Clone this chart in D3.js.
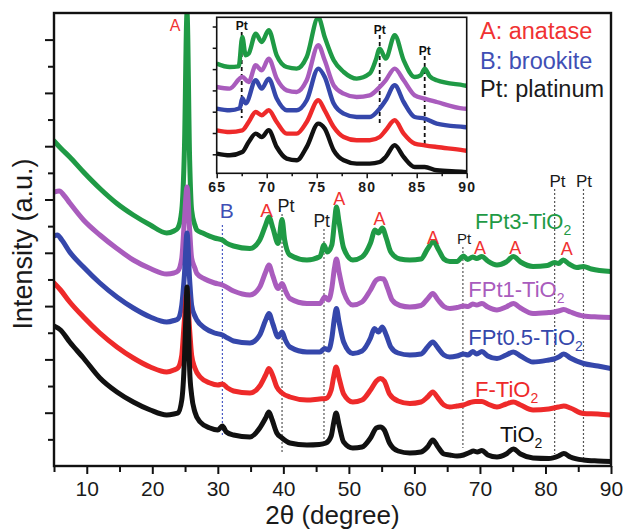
<!DOCTYPE html>
<html><head><meta charset="utf-8">
<script src="https://cdn.jsdelivr.net/npm/d3@7/dist/d3.min.js"></script>
<style>
body{margin:0;background:#fff}
svg{display:block;font-family:"Liberation Sans",Arial,Helvetica,sans-serif}
</style>
</head><body>
<svg id="chart" width="626" height="529"></svg>
<script>
// ---------------- DATA (2θ in degrees, intensity in a.u. with vertical offsets) ----------------
const tio2 = [[5,140],[6,136],[7.4,124],[9.5,108],[12,88],[14.6,74],[17.1,64],[19.7,56],[22.2,51],[23.3,52],[23.9,53],[24.5,66],[24.9,106],[25.15,156],[25.3,179],[25.45,156],[25.7,96],[26,71],[26.5,54],[27.3,44],[28.8,38],[30,36],[30.7,40],[31.3,34],[32.4,31],[34.9,29],[36.4,38],[37.3,48],[37.8,54],[38.3,46],[39,33],[39.8,28],[41,23],[43.6,21],[45.5,21.5],[46.5,23],[47.3,30],[47.7,44],[48.05,53],[48.5,41],[49.2,24],[50.6,18],[52,19],[53.3,28],[54.2,38],[54.8,39],[55.4,36],[56.2,23],[57.5,15],[59.3,13],[61,14],[62,19],[62.8,26],[63.6,19],[64.5,12],[65.4,11],[66.5,10],[67.5,11],[68.4,13.5],[69,15],[69.6,14],[70.3,15.5],[71.2,11],[72.6,9],[74,12],[75.1,17],[76.2,12],[78.1,8],[80.5,7.5],[82,10],[82.8,12.5],[83.8,9],[85.8,6],[88,5],[90,4.5]];
const fTio2 = [[5,183],[6,176],[7.4,164],[9.5,149],[12,133],[14.6,119],[17.1,108],[19.7,99],[22.2,94],[23.3,96],[23.9,98],[24.5,111],[24.9,146],[25.3,175],[25.7,136],[26,111],[26.5,98],[27.3,89],[28.8,83],[30,81],[30.7,82],[31.5,78],[32.4,75],[34.9,73],[36.4,80],[37.3,91],[37.8,97.5],[38.4,90],[39,79],[39.8,73],[41,69],[43.6,66],[45.5,67],[46.5,67.5],[47.3,76],[47.7,90],[48.05,99],[48.5,88],[49.2,72],[50.6,64],[52,66],[53.3,76],[54.2,85],[54.8,87.5],[55.4,85],[56.2,72],[57.5,65],[59.3,62.5],[61,64],[62,69],[62.8,74],[63.6,68],[64.5,61],[65.4,59],[66.5,60],[67.5,61],[68.5,63.5],[69.3,64.5],[70.3,64.5],[71.2,62],[72.6,59],[74,62],[75.1,64],[76.2,61],[78.1,56],[80.5,57],[82,59],[82.8,60],[83.8,58],[85.8,52.5],[88,52],[90,51]];
const fpt05 = [[5,230],[5.5,231],[6.2,226],[7.4,214],[9.5,199],[12,183],[14.6,169],[17.1,158],[19.7,149],[22.2,144],[23.3,145.5],[23.9,147],[24.5,161],[24.9,191],[25.3,233],[25.7,186],[26,161],[26.5,150],[26.8,146],[28,138],[29.5,133],[30.7,131],[31.5,128],[32.4,125],[34.9,123],[36.4,131],[37.3,146],[37.8,152.5],[38.4,142],[39.2,129],[39.8,134],[40.3,126],[41,119],[43.6,114],[45.6,114],[46.3,117.5],[46.9,116],[47.4,128],[47.8,148],[48.1,157.5],[48.5,144],[49.2,124],[50.6,112.5],[52,115],[53.3,128],[53.9,137.5],[54.5,134],[55.1,139],[55.7,131],[56.4,119],[57.5,113],[59.3,111],[61,112],[62,119],[62.8,124],[63.6,118],[64.5,111],[65.4,109],[66.5,110],[67.5,112],[68.2,111],[68.9,114.5],[69.5,112],[70.3,114.5],[71.2,110],[72.6,107.5],[74,111],[75.1,114],[76.2,110],[78.1,104],[80.5,106],[81.3,107],[82,109],[82.8,112],[83.8,108],[85.8,102.5],[88,100],[90,97.5]];
const fpt1 = [[5,274],[5.8,275],[6.6,270],[7.4,263],[9.5,246],[12,231],[14.6,217.5],[17.1,206],[19.7,197.5],[22.2,192],[23.3,193],[23.9,195],[24.5,208],[24.9,246],[25.3,279],[25.7,236],[26,208],[26.5,198],[26.8,192.5],[28,187],[29.5,183],[30.7,181],[32.4,175],[34.9,171],[36.4,179],[37.3,194],[37.8,201],[38.4,190],[39.2,177.5],[39.8,182.5],[40.4,174],[41,167.5],[43.6,162.5],[45.6,162.5],[46.3,169],[46.9,166],[47.4,178],[47.8,198],[48.1,207],[48.5,194],[49.2,174],[50.6,161],[52,164],[53.3,176],[54.2,186],[54.8,187.5],[55.3,187],[55.9,178],[56.6,166],[57.8,160.5],[59.3,159],[61,160.5],[62,167],[62.8,172.5],[63.6,166],[64.5,159.5],[65.4,157.5],[66.5,158.5],[67.5,160],[68.2,159.5],[68.9,162],[69.5,161],[70.3,162.5],[71.2,159],[72.6,156],[74,159],[75.1,162.5],[76.2,158],[78.1,152.5],[80.5,153.5],[81.3,154],[82,155],[82.8,156.5],[83.8,154],[85.8,150],[88,149],[90,148.5]];
const fpt3 = [[5,325],[6,318],[7.4,309],[9.5,294],[12,277.5],[14.6,262.5],[17.1,251],[19.7,241],[22.2,233],[23.3,235],[23.9,238],[24.5,256],[24.9,316],[25.3,453],[25.7,306],[26,256],[26.5,241],[26.8,236],[27.7,233],[29.5,228],[30.7,226],[31.3,223],[32.4,220],[34.9,217.5],[36.4,226],[37.3,241],[37.8,249],[38.4,238],[39.2,222.5],[39.8,246.5],[40.2,226],[41,211],[43.6,206],[45.6,209.5],[46.2,221],[46.7,214],[47.4,221],[47.8,244],[48.1,259],[48.5,244],[49.2,218],[50.6,206],[52,209],[53.3,223],[54,236],[54.5,233],[55.1,238],[55.7,228],[56.4,214],[57.8,207],[59.3,206],[61,207],[62,217],[62.9,224.5],[63.7,216],[64.5,207],[65.4,204.5],[66.5,204.5],[67.5,210],[68.1,206.5],[68.9,209],[69.5,207.5],[70.3,209.5],[71.2,205],[72.6,201],[74,204],[75.1,209.5],[76.2,204],[78.1,199.5],[80.3,200.5],[81.4,203.5],[82,202.5],[82.7,206],[83.6,202],[84.8,198.5],[85.8,199.5],[87,197],[90,194.5]];

// inset (65–90°)
const insetTio2 = [[65,19.7],[66.3,18],[67.56,21.3],[68.2,31.3],[68.9,39.7],[69.5,36.3],[70.2,43],[71,26.3],[72,14.7],[73,13],[74,26.3],[75.16,49.7],[75.8,44.7],[76.7,23],[77.7,13],[79,9.7],[80.3,9.7],[81.3,11.3],[81.9,16.3],[82.8,28],[83.7,16.3],[84.8,6.3],[85.8,6.3],[87,3],[89.7,1.3],[90,1]];
const insetF = [[65,43],[66.3,41.3],[67.56,43],[68.2,51.3],[68.9,61.3],[69.5,58],[70.2,63],[71,51.3],[72,39.7],[73,39.7],[74,51.3],[75.16,73],[75.8,63],[76.7,46.3],[77.7,36.3],[79,33],[80.3,33],[81.3,36.3],[81.9,43],[82.8,53],[83.7,39.7],[84.8,29.7],[85.8,28],[87,26.3],[89.7,23],[90,22.5]];
const insetPt05 = [[65,64.7],[66.3,63],[67.3,65],[67.56,75],[67.9,70],[68.9,93],[69.5,84.7],[70.2,94.7],[71,74.7],[72,63],[73,63],[74,73],[75.16,104.7],[75.8,96.3],[76.7,69.7],[77.7,59.7],[79,56.3],[80.3,56.3],[81.3,64.7],[81.9,73],[82.8,88],[83.7,71.3],[84.8,56.3],[85.8,54.7],[87,49.7],[89.7,46.3],[90,46]];
const insetPt1 = [[65,86.3],[66.3,84.7],[67.56,96.3],[68.2,91.3],[68.9,108],[69.5,103],[70.2,114.7],[71,94.7],[72,83],[73,81.3],[74,93],[75.16,128],[75.8,113],[76.7,88],[77.7,79.7],[79,76.3],[80.3,78],[81.3,86.3],[81.9,93],[82.8,104.7],[83.7,93],[84.8,78],[85.8,74.7],[87,71.3],[89.7,64.7],[90,64.5]];
const insetPt3 = [[65,109.7],[66.3,106.3],[67.2,107],[67.56,136.3],[67.9,118],[68.2,119.7],[68.9,139.7],[69.5,131.3],[70.2,143],[71,118],[72,106.3],[73,104.7],[74,116.3],[75.16,156],[75.8,136.3],[76.7,113],[77.7,101.3],[79,94.7],[80.3,99.7],[80.9,113],[81.3,124.7],[81.9,114.7],[82.8,138],[83.7,113],[84.8,96.3],[85.4,98],[85.8,104.7],[86.3,97],[87,93],[89.7,88],[90,87.5]];

const seriesNames = ["FPt3-TiO", "FPt1-TiO", "FPt0.5-TiO", "F-TiO", "TiO"];
const seriesColors = ["#1f9a45", "#a95cbd", "#3547ab", "#ee2a2a", "#111111"];
const xTickLabels = [10, 20, 30, 40, 50, 60, 70, 80, 90];
const xMinorTicks = [5, 15, 25, 35, 45, 55, 65, 75, 85];
const insetTickLabels = [65, 70, 75, 80, 85, 90];
const insetMinorTicks = [67.5, 72.5, 77.5, 82.5, 87.5];
const brookiteLine = 30.7;
const ptLinesMain = [39.8, 46.2, 67.4, 81.4, 85.8];
const ptLinesInset = [67.5, 81.3, 85.8];
const legendItems = ["A: anatase", "B: brookite", "Pt: platinum"];

// ---------------- LAYOUT ----------------
const svg = d3.select("#chart");
const M = {l: 54, r: 611, t: 13, b: 466};
const x = d3.scaleLinear([5, 90], [M.l, M.r]);
const y = d3.scaleLinear([0, 453], [M.b, M.t]);
const yMajor = d3.range(1, 9).map(i => i * 53.3);
const yMinor = d3.range(0, 8).map(i => i * 53.3 + 26.65);

svg.append("defs").append("clipPath").attr("id", "mainClip")
  .append("rect").attr("x", M.l).attr("y", M.t).attr("width", M.r - M.l).attr("height", M.b - M.t);

// dashed reference lines (main)
const ptExtents = [[214, 453], [229, 441], [247, 448], [189, 454], [189, 458]];
svg.append("line").attr("x1", x(brookiteLine)).attr("x2", x(brookiteLine))
  .attr("y1", 225).attr("y2", 437).attr("stroke", "#4a5bc4").attr("stroke-width", 1.2).attr("stroke-dasharray", "2,2");
ptLinesMain.forEach((p, i) => {
  svg.append("line").attr("x1", x(p)).attr("x2", x(p))
    .attr("y1", ptExtents[i][0]).attr("y2", ptExtents[i][1])
    .attr("stroke", "#555").attr("stroke-width", 1.2).attr("stroke-dasharray", "2,2");
});

// curves
const line = d3.line().x(d => x(d[0])).y(d => y(d[1])).curve(d3.curveMonotoneX);
const mainData = [fpt3, fpt1, fpt05, fTio2, tio2];
const gCurves = svg.append("g").attr("clip-path", "url(#mainClip)");
mainData.forEach((d, i) => {
  gCurves.append("path").attr("d", line(d)).attr("fill", "none")
    .attr("stroke", seriesColors[i]).attr("stroke-width", 5)
    .attr("stroke-linejoin", "round").attr("stroke-linecap", "round");
});

// axes
const axB = svg.append("g").attr("transform", `translate(0,${M.b})`)
  .call(d3.axisBottom(x).tickValues(xTickLabels).tickSize(8).tickPadding(7).tickFormat(d3.format("d")));
svg.append("g").attr("transform", `translate(0,${M.b})`)
  .call(d3.axisBottom(x).tickValues(xMinorTicks).tickSize(6).tickFormat(""));
svg.append("g").attr("transform", `translate(${M.l},0)`)
  .call(d3.axisLeft(y).tickValues(yMajor).tickSize(9).tickFormat(""));
svg.append("g").attr("transform", `translate(${M.l},0)`)
  .call(d3.axisLeft(y).tickValues(yMinor).tickSize(6).tickFormat(""));
svg.selectAll(".domain").remove();
svg.selectAll(".tick line").attr("stroke", "#111").attr("stroke-width", 2);
axB.selectAll("text").attr("font-size", 21).attr("fill", "#1a1a1a").attr("font-family", "Liberation Sans, Arial, sans-serif");

// frame
svg.append("rect").attr("x", M.l).attr("y", M.t).attr("width", M.r - M.l).attr("height", M.b - M.t)
  .attr("fill", "none").attr("stroke", "#111").attr("stroke-width", 2.4);

// axis titles
svg.append("text").attr("x", (M.l + M.r) / 2).attr("y", 524).attr("text-anchor", "middle")
  .attr("font-size", 26).attr("fill", "#1a1a1a").text("2θ (degree)");
svg.append("text").attr("transform", "translate(32,244) rotate(-90)").attr("text-anchor", "middle")
  .attr("font-size", 27).attr("fill", "#1a1a1a").text("Intensity (a.u.)");

// peak labels
const RED = "#f03232", BLUE = "#3f4fb5", BLK = "#1a1a1a";
const peakLabels = [
  ["A", 23.46, 31, 16, RED], ["B", 31.35, 218, 21, BLUE], ["A", 37.46, 217, 19, RED],
  ["Pt", 40.4, 212, 18, BLK], ["Pt", 45.85, 227, 17.5, BLK], ["A", 48.54, 205, 18, RED],
  ["A", 54.67, 225, 18, RED], ["A", 62.84, 244, 18, RED], ["Pt", 67.57, 244, 15, BLK],
  ["A", 70.0, 254, 18, RED], ["A", 75.4, 254, 18, RED], ["A", 83.24, 255, 18, RED],
  ["Pt", 81.83, 187, 17, BLK], ["Pt", 85.88, 187, 17, BLK]
];
peakLabels.forEach(p => {
  svg.append("text").attr("x", x(p[1])).attr("y", p[2]).attr("text-anchor", "middle")
    .attr("font-size", p[3]).attr("fill", p[4]).text(p[0]);
});

// sample labels
const sampleLabelPos = [[69.25, 229], [68.22, 297], [68.22, 345], [69.25, 397], [73.06, 442]];
seriesNames.forEach((n, i) => {
  const t = svg.append("text").attr("x", x(sampleLabelPos[i][0])).attr("y", sampleLabelPos[i][1])
    .attr("font-size", 22).attr("fill", seriesColors[i]);
  t.append("tspan").text(n);
  t.append("tspan").attr("font-size", 14).attr("dy", 6).text("2");
});

// legend
const legendColors = [RED, BLUE, BLK];
const legendY = [39, 69, 97];
legendItems.forEach((s, i) => {
  svg.append("text").attr("x", 480).attr("y", legendY[i]).attr("font-size", 23.5)
    .attr("fill", legendColors[i]).text(s);
});

// ---------------- INSET ----------------
const I = {l: 216.7, r: 466.7, t: 17.3, b: 173.3};
const xi = d3.scaleLinear([65, 90], [I.l, I.r]);
const yi = d3.scaleLinear([0, 156], [I.b, I.t]);
svg.append("rect").attr("x", I.l).attr("y", I.t).attr("width", I.r - I.l).attr("height", I.b - I.t).attr("fill", "#fff");
svg.select("defs").append("clipPath").attr("id", "insetClip")
  .append("rect").attr("x", I.l).attr("y", I.t).attr("width", I.r - I.l).attr("height", I.b - I.t);

const ptInsetExt = [[32, 118], [35, 123], [56, 145]];
const ptInsetLabelY = [30, 34, 55];
ptLinesInset.forEach((p, i) => {
  svg.append("line").attr("x1", xi(p)).attr("x2", xi(p)).attr("y1", ptInsetExt[i][0]).attr("y2", ptInsetExt[i][1])
    .attr("stroke", "#111").attr("stroke-width", 1.8).attr("stroke-dasharray", "4,3");
});
const lineI = d3.line().x(d => xi(d[0])).y(d => yi(d[1])).curve(d3.curveMonotoneX);
const insetData = [insetPt3, insetPt1, insetPt05, insetF, insetTio2];
const gI = svg.append("g").attr("clip-path", "url(#insetClip)");
insetData.forEach((d, i) => {
  gI.append("path").attr("d", lineI(d)).attr("fill", "none").attr("stroke", seriesColors[i])
    .attr("stroke-width", 4.4).attr("stroke-linejoin", "round");
});
ptLinesInset.forEach((p, i) => {
  svg.append("text").attr("x", xi(p)).attr("y", ptInsetLabelY[i]).attr("text-anchor", "middle")
    .attr("font-size", 12).attr("font-weight", "bold").attr("fill", "#111").text("Pt");
});
const axIB = svg.append("g").attr("transform", `translate(0,${I.b})`)
  .call(d3.axisBottom(xi).tickValues(insetTickLabels).tickSize(5).tickPadding(4).tickFormat(d3.format("d")));
const axIBm = svg.append("g").attr("transform", `translate(0,${I.b})`)
  .call(d3.axisBottom(xi).tickValues(insetMinorTicks).tickSize(3).tickFormat(""));
const axIL = svg.append("g").attr("transform", `translate(${I.l},0)`)
  .call(d3.axisLeft(yi).tickValues(d3.range(19, 156, 21.3)).tickSize(4).tickFormat(""));
svg.selectAll(".domain").remove();
[axIB, axIBm, axIL].forEach(g => g.selectAll(".tick line").attr("stroke", "#111").attr("stroke-width", 1.5));
axIB.selectAll("text").attr("font-size", 14).attr("font-weight", "bold").attr("letter-spacing", 1.2)
  .attr("fill", "#1a1a1a").attr("font-family", "Liberation Sans, Arial, sans-serif");
svg.append("rect").attr("x", I.l).attr("y", I.t).attr("width", I.r - I.l).attr("height", I.b - I.t)
  .attr("fill", "none").attr("stroke", "#111").attr("stroke-width", 1.6);
</script>
</body></html>
